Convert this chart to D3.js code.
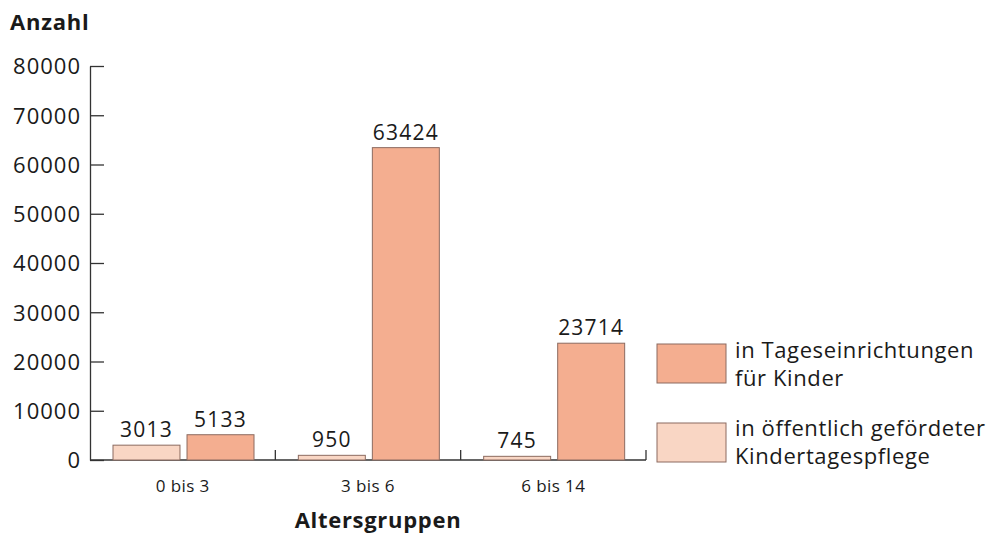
<!DOCTYPE html>
<html><head><meta charset="utf-8">
<script src="https://cdn.jsdelivr.net/npm/d3@7"></script>
<style>body{margin:0;background:#fff}svg{display:block}text{font-family:"Open Sans",sans-serif;fill:#1a1a1a}</style>
</head><body>
<svg id="c" width="986" height="534"></svg>
<script>
const categories = ["0 bis 3", "3 bis 6", "6 bis 14"];
const seriesNames = ["in öffentlich geförderter Kindertagespflege", "in Tageseinrichtungen für Kinder"];
const pflege = [3013, 950, 745];
const einrichtungen = [5133, 63424, 23714];
const yTicks = [0, 10000, 20000, 30000, 40000, 50000, 60000, 70000, 80000];
const colors = ["#f9d6c4", "#f4ae90"];
const legendLines = [["in Tageseinrichtungen", "für Kinder"], ["in öffentlich gefördeter", "Kindertagespflege"]];

const svg = d3.select("#c");
const y = d3.scaleLinear().domain([0, 80000]).range([460, 66]);
const x = d3.scaleBand().domain(categories).range([90, 646]);
const xs = d3.scaleBand().domain([0, 1]).range([23, 164]).paddingInner(0.095);
const data = categories.map((c, i) => ({c, v: [pflege[i], einrichtungen[i]]}));

// y axis
const ya = svg.append("g").attr("transform", "translate(90,0)")
  .call(d3.axisLeft(y).tickValues(yTicks).tickFormat(d3.format("d")).tickSize(-14).tickSizeOuter(0).tickPadding(9));
ya.select(".domain").attr("stroke", "#333").attr("stroke-width", 1.3);
ya.selectAll(".tick line").attr("stroke", "#333").attr("stroke-width", 1.3);
ya.selectAll(".tick text").style("font-size", "22px").style("letter-spacing", "1px").attr("fill", "#1a1a1a").attr("font-family", "Open Sans").attr("dy", "0.36em");

// x axis
svg.append("line").attr("x1", 90).attr("x2", 646).attr("y1", y(0)).attr("y2", y(0)).attr("stroke", "#333").attr("stroke-width", 1.3);
categories.forEach(c => {
  const xe = x(c) + x.bandwidth();
  svg.append("line").attr("x1", xe).attr("x2", xe).attr("y1", y(0)).attr("y2", y(0) - 10).attr("stroke", "#333").attr("stroke-width", 1.3);
  svg.append("text").attr("x", x(c) + x.bandwidth() / 2).attr("y", 492).attr("text-anchor", "middle").style("font-size", "17px").style("letter-spacing", "0.4px").text(c);
});

// bars
const g = svg.selectAll(".grp").data(data).enter().append("g").attr("transform", d => `translate(${x(d.c)},0)`);
g.selectAll("rect").data(d => d.v).enter().append("rect")
  .attr("x", (d, i) => xs(i)).attr("width", xs.bandwidth())
  .attr("y", d => y(d)).attr("height", d => y(0) - y(d))
  .attr("fill", (d, i) => colors[i]).attr("stroke", "#8c6b60").attr("stroke-width", 1);
g.selectAll("text.v").data(d => d.v).enter().append("text").attr("class", "v")
  .attr("x", (d, i) => xs(i) + xs.bandwidth() / 2).attr("y", d => y(d) - 8)
  .attr("text-anchor", "middle").style("font-size", "21px").style("letter-spacing", "1.2px").text(d => d);

// titles
svg.append("text").attr("x", 10).attr("y", 30).style("font-size", "22px").style("letter-spacing", "0.8px").style("font-weight", "bold").text("Anzahl");
svg.append("text").attr("x", 378).attr("y", 528).attr("text-anchor", "middle").style("font-size", "22px").style("letter-spacing", "0.7px").style("font-weight", "bold").text("Altersgruppen");

// legend
const legY = [344, 423];
const legBase = [358, 436];
[1, 0].forEach((si, k) => {
  svg.append("rect").attr("x", 657).attr("y", legY[k]).attr("width", 69).attr("height", 39)
    .attr("fill", colors[si]).attr("stroke", "#8c6b60").attr("stroke-width", 1);
  const t = svg.append("text").attr("x", 735).attr("y", legBase[k]).style("font-size", "22px").style("letter-spacing", "0.6px");
  legendLines[k].forEach((l, j) => t.append("tspan").attr("x", 735).attr("dy", j === 0 ? 0 : 28).text(l));
});
</script>
</body></html>
